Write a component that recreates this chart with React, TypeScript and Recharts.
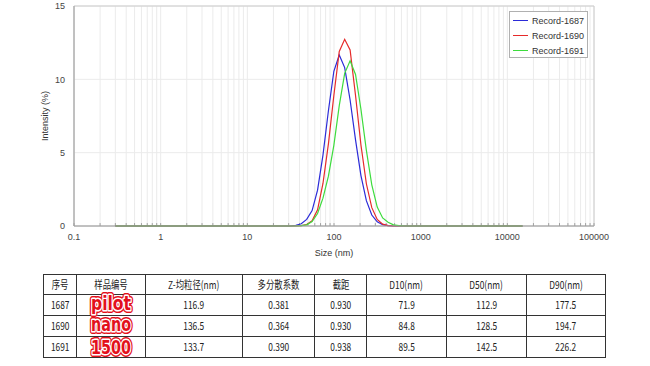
import React from "react";
import {
  LineChart,
  Line,
  XAxis,
  YAxis,
  CartesianGrid,
  Legend,
  ReferenceArea,
  ReferenceLine,
} from "recharts";

// ---- chart data ----
const sizes = [0.3, 27.2, 31.4, 36.3, 41.9, 48.4, 55.9, 64.6, 74.6, 86.2, 99.6, 115, 132.8, 153.4, 177.2, 204.6, 236.3, 273.0, 315.3, 364.2, 420.6, 485.8, 561.1, 648.1, 15000];
const record1687 = [0, 0, 0, 0.04, 0.15, 0.45, 1.05, 2.44, 4.83, 7.86, 10.55, 11.66, 10.8, 8.59, 5.87, 3.44, 1.73, 0.75, 0.28, 0.09, 0.02, 0, 0, 0, 0];
const record1690 = [0, 0, 0, 0, 0.02, 0.1, 0.35, 1.1, 2.9, 5.6, 8.9, 11.9, 12.73, 12.0, 8.9, 5.52, 2.88, 1.25, 0.45, 0.13, 0.03, 0, 0, 0, 0];
const record1691 = [0, 0, 0, 0, 0.02, 0.08, 0.3, 0.85, 1.9, 3.4, 5.5, 8.21, 10.41, 11.27, 10.33, 7.96, 5.16, 2.81, 1.29, 0.55, 0.25, 0.08, 0.02, 0, 0];

const seriesKeys = ["r1687", "r1690", "r1691"];
const seriesNames = ["Record-1687", "Record-1690", "Record-1691"];
const seriesColors = ["#2b2bd8", "#e62a2a", "#3ddc3d"];

const xMajorTicks = [0.1, 1, 10, 100, 1000, 10000, 100000];
const xMinorMultipliers = [2, 3, 4, 5, 6, 7, 8, 9];
const yTicks = [0, 5, 10, 15];

// ---- table data ----
const tableHeaders = ["序号", "样品编号", "Z-均粒径(nm)", "多分散系数", "截距", "D10(nm)", "D50(nm)", "D90(nm)"];
const sampleIds = ["1687", "1690", "1691"];
const sampleNames = ["pilot", "nano", "1500"];
const zAverage = ["116.9", "136.5", "133.7"];
const pdi = ["0.381", "0.364", "0.390"];
const intercept = ["0.930", "0.930", "0.938"];
const d10 = ["71.9", "84.8", "89.5"];
const d50 = ["112.9", "128.5", "142.5"];
const d90 = ["177.5", "194.7", "226.2"];

const colWidths = [33, 69, 97, 72, 52, 80, 80, 79];

const chartData = sizes.map((s, i) => ({
  size: s,
  r1687: record1687[i],
  r1690: record1690[i],
  r1691: record1691[i],
}));

const allXTicks: number[] = [];
xMajorTicks.forEach((d, i) => {
  allXTicks.push(d);
  if (i < xMajorTicks.length - 1) {
    xMinorMultipliers.forEach((m) => allXTicks.push(Number((d * m).toPrecision(6))));
  }
});

const isDecade = (v: number) => {
  const l = Math.log10(v);
  return Math.abs(l - Math.round(l)) < 1e-9;
};

const FONT = "'Liberation Sans', Arial, sans-serif";

const LegendBox = () => (
  <div
    style={{
      width: 79,
      height: 47,
      boxSizing: "border-box",
      border: "1px solid #b0b0b0",
      background: "#fff",
      padding: "1px 0 0 3px",
      fontFamily: FONT,
      fontSize: 9,
      color: "#333",
    }}
  >
    {seriesNames.map((n, i) => (
      <div key={n} style={{ display: "flex", alignItems: "center", height: 15 }}>
        <span
          style={{
            display: "inline-block",
            width: 15,
            height: 0,
            borderTop: `1.3px solid ${seriesColors[i]}`,
            marginRight: 4,
          }}
        />
        <span>{n}</span>
      </div>
    ))}
  </div>
);

const StampWord = ({ text, baseline }: { text: string; baseline: number }) => {
  const common = {
    x: 34,
    y: baseline,
    textAnchor: "middle" as const,
    fontSize: 19,
    fontWeight: 700,
    fontFamily: "'DejaVu Sans', sans-serif",
    textLength: 40,
    lengthAdjust: "spacingAndGlyphs" as const,
  };
  return (
    <svg width={68} height={20} style={{ display: "block", overflow: "visible" }}>
      <text {...common} fill="#e3101c" stroke="#e3101c" strokeWidth={6} strokeLinejoin="round">
        {text}
      </text>
      <text {...common} fill="#e3101c" stroke="#ffffff" strokeWidth={3} strokeLinejoin="round">
        {text}
      </text>
      <text {...common} fill="#e3101c">
        {text}
      </text>
    </svg>
  );
};

const stampBaselines = [15, 15.2, 17];

const cellStyle: React.CSSProperties = {
  border: "1px solid #333",
  padding: 0,
  textAlign: "center",
  verticalAlign: "middle",
  fontFamily: "'Noto Sans CJK SC', 'Noto Sans', sans-serif",
  fontSize: 11,
  color: "#222",
  lineHeight: "13px",
};

const Squeeze = ({ children }: { children: React.ReactNode }) => (
  <span style={{ display: "inline-block", transform: "scaleX(0.76)", whiteSpace: "nowrap" }}>{children}</span>
);

export default function App() {
  const rows = sampleIds.map((id, i) => [id, sampleNames[i], zAverage[i], pdi[i], intercept[i], d10[i], d50[i], d90[i]]);
  return (
    <div style={{ position: "absolute", left: 0, top: 0, width: 650, height: 366, background: "#fff", overflow: "hidden" }}>
      <LineChart
        width={650}
        height={260}
        data={chartData}
        margin={{ top: 6, right: 56, bottom: 0, left: 0 }}
        style={{ fontFamily: FONT }}
      >
        <CartesianGrid stroke="#ebebeb" strokeWidth={1} />
        <XAxis
          dataKey="size"
          type="number"
          scale="log"
          domain={[0.1, 100000]}
          ticks={allXTicks}
          interval={0}
          allowDataOverflow
          height={34}
          tickLine={false}
          tickSize={6}
          tickMargin={2}
          axisLine={{ stroke: "#a0a0a0" }}
          tick={{ fontSize: 9, fill: "#444" }}
          tickFormatter={(v: number) => (isDecade(v) ? String(v) : "")}
          label={{ value: "Size (nm)", position: "insideBottom", offset: 4, fontSize: 9, fill: "#333" }}
        />
        <YAxis
          type="number"
          domain={[0, 15]}
          ticks={yTicks}
          interval={0}
          width={74}
          tickLine={false}
          tickSize={6}
          tickMargin={3}
          axisLine={{ stroke: "#a0a0a0" }}
          tick={{ fontSize: 9, fill: "#444" }}
          label={{ value: "Intensity (%)", angle: -90, position: "center", dx: 8, fontSize: 9, fill: "#333" }}
        />
        <ReferenceArea x1={0.1} x2={100000} y1={0} y2={15} fill="none" stroke="#cccccc" ifOverflow="visible" />
        {allXTicks.map((t) => (
          <ReferenceLine
            key={"mt" + t}
            segment={[
              { x: t, y: 0 },
              { x: t, y: 0.2 },
            ]}
            stroke="#a0a0a0"
          />
        ))}
        {seriesKeys.map((k, i) => (
          <Line
            key={k}
            dataKey={k}
            name={seriesNames[i]}
            type="linear"
            stroke={seriesColors[i]}
            strokeWidth={1.2}
            dot={false}
            activeDot={false}
            isAnimationActive={false}
          />
        ))}
        <Legend
          layout="vertical"
          align="center"
          verticalAlign="middle"
          content={() => <LegendBox />}
          wrapperStyle={{ position: "absolute", top: 11, left: 509, width: 79, height: 47 }}
        />
      </LineChart>

      <table
        style={{
          position: "absolute",
          left: 43,
          top: 274,
          borderCollapse: "collapse",
          tableLayout: "fixed",
          width: colWidths.reduce((a, b) => a + b, 0),
        }}
      >
        <colgroup>
          {colWidths.map((w, i) => (
            <col key={i} style={{ width: w }} />
          ))}
        </colgroup>
        <tbody>
          <tr style={{ height: 19.5 }}>
            {tableHeaders.map((h) => (
              <td key={h} style={cellStyle}>
                <Squeeze>{h}</Squeeze>
              </td>
            ))}
          </tr>
          {rows.map((r, ri) => (
            <tr key={r[0]} style={{ height: 20 }}>
              {r.map((c, ci) => (
                <td key={ci} style={cellStyle}>
                  {ci === 1 ? <StampWord text={c} baseline={stampBaselines[ri]} /> : <Squeeze>{c}</Squeeze>}
                </td>
              ))}
            </tr>
          ))}
        </tbody>
      </table>
    </div>
  );
}
